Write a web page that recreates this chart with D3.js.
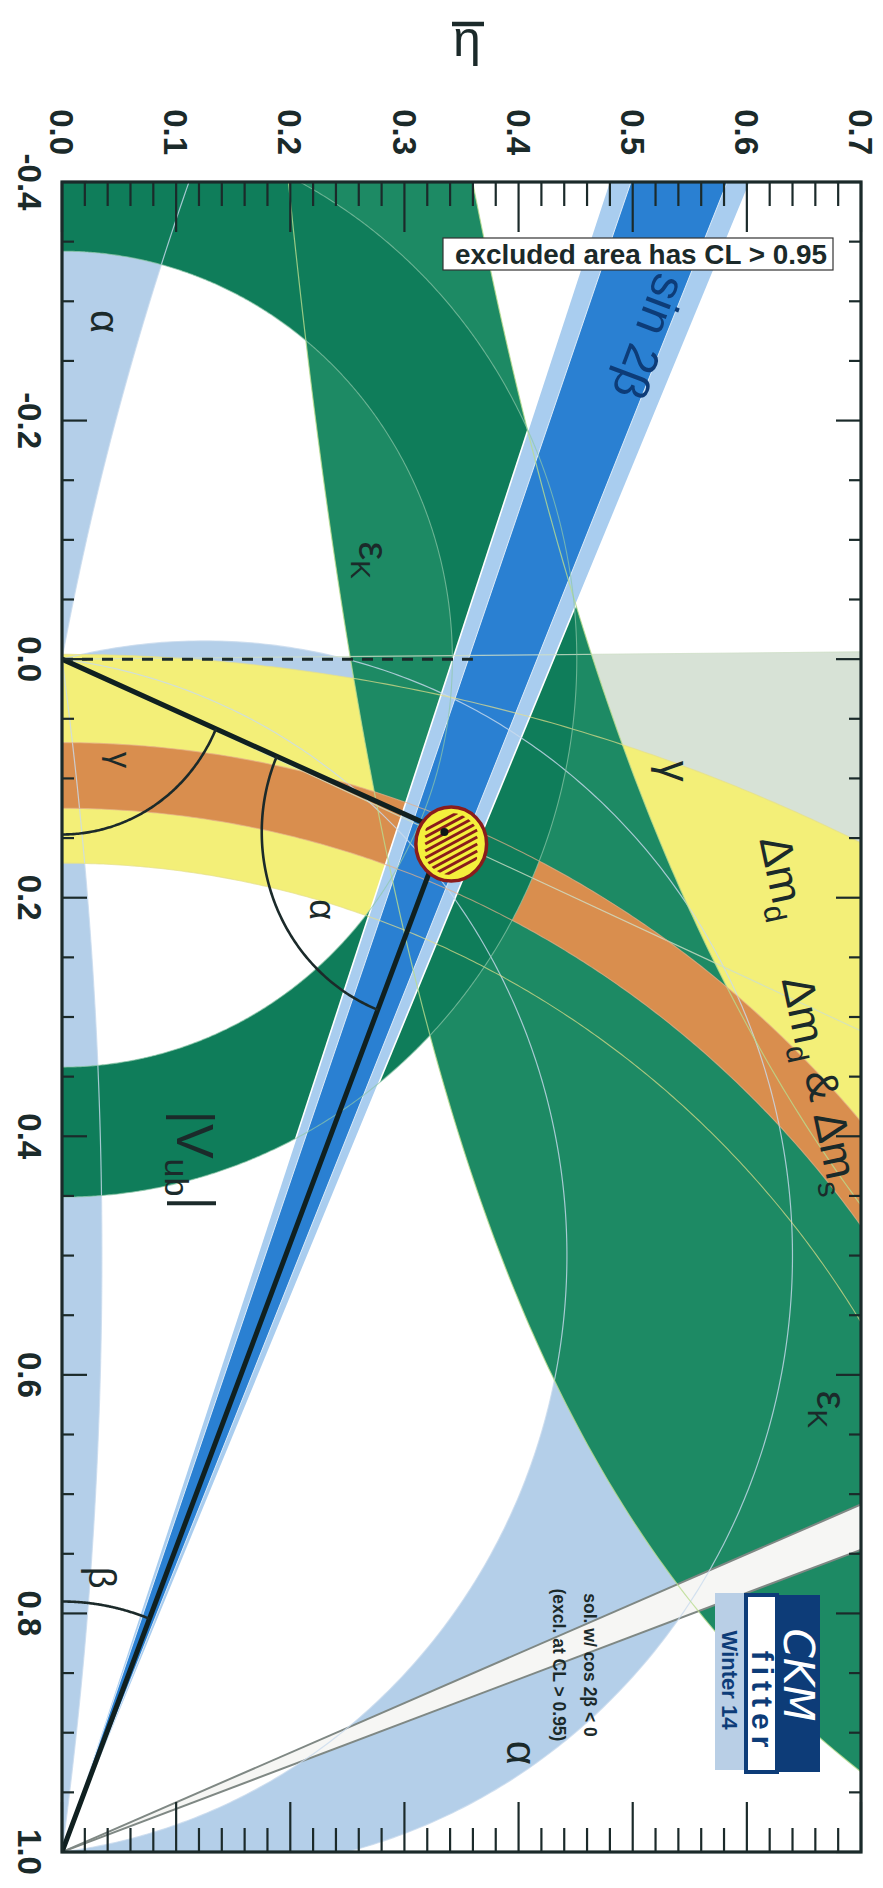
<!DOCTYPE html>
<html>
<head>
<meta charset="utf-8">
<script src="https://cdn.jsdelivr.net/npm/d3@7"></script>
<style>
  html, body { margin: 0; padding: 0; background: #fff; }
  svg { display: block; font-family: "Liberation Sans", Arial, sans-serif; }
</style>
</head>
<body>
<svg id="chart" width="883" height="1888"></svg>
<script>
// ---------------- axes ----------------
const rhoRange = [-0.4, 1.0];
const etaRange = [0.0, 0.7];
const rhoTickLabels = [-0.4, -0.2, 0.0, 0.2, 0.4, 0.6, 0.8, 1.0];
const etaTickLabels = [0.0, 0.1, 0.2, 0.3, 0.4, 0.5, 0.6, 0.7];

// ---------------- unitarity triangle ----------------
const apex = [0.145, 0.335];          // [rho, eta]
const fitCenter = [0.155, 0.341];     // global fit spot
const fitHalfWidth = [0.031, 0.031];  // [rho, eta]
const arcRadii = [0.16, 0.21, 0.147]; // alpha, beta, gamma angle markers

// ---------------- constraints ----------------
const vubRadii = [0.342, 0.451];      // |Vub| ring around (0,0)
const dmdCenters = [1.0, 1.626];      // Δm_d band edges: circles centred on the rho axis
const dmdRadii = [0.829, 1.63];
const dmsRadii = [0.875, 0.93];       // Δm_d & Δm_s ring around (1,0)
const sin2bOuter = [18.9, 23.3];      // beta (deg) at (1,0)
const sin2bInner = [19.6, 22.6];
const cos2bNeg = [67.4, 70.1];        // second sin2β solution
const gammaWedge = [66, 90.5];        // gamma (deg) at (0,0)
const alphaLow = 11;                  // alpha below this (deg)
const alphaMid = [76, 97];
const alphaHigh = 172;                // alpha above this (deg)
const epsKA = [1.46, 1.365];          // eps_K edges: eta = B / (A - rho)  [lower, upper]
const epsKB = [0.369, 0.635];

// ---------------- colours ----------------
const col = {
  epsK: "#1d8a64", vub: "#0f7d5a", dmd: "#f3ef78", dms: "#d98e4e",
  alpha: "#b4cfe9", gamma: "#d7e2d6", blueDark: "#2a80d2", blueLight: "#a9cdef",
  ink: "#1b2a2a", navy: "#0d3c78"
};

// ---------------- frame geometry ----------------
const frame = { left: 62, right: 861, top: 182, bottom: 1852 };
const plotLen = frame.bottom - frame.top;   // rho direction
const plotDepth = frame.right - frame.left; // eta direction
const deg = Math.PI / 180;

const x = d3.scaleLinear().domain(rhoRange).range([0, plotLen]);
const y = d3.scaleLinear().domain(etaRange).range([plotDepth, 0]);
const line = d3.line().x(d => x(d[0])).y(d => y(d[1]));
const poly = pts => line(pts) + "Z";

const svg = d3.select("#chart");
svg.append("rect").attr("width", 883).attr("height", 1888).attr("fill", "#fff");

// the whole plot is drawn in (rho, eta) orientation and turned a quarter turn
const g = svg.append("g")
  .attr("transform", `translate(${frame.right},${frame.top}) rotate(90)`);

g.append("clipPath").attr("id", "plotClip")
  .append("rect").attr("width", plotLen).attr("height", plotDepth);

const layers = g.append("g").attr("clip-path", "url(#plotClip)");

// ---------------- shape helpers (data space) ----------------
function halfCircle(c, r, reverse = false) {
  const pts = d3.range(721).map(i => { const t = Math.PI * i / 720; return [c + r * Math.cos(t), r * Math.sin(t)]; });
  return reverse ? pts.reverse() : pts;
}
function band(c1, r1, c2, r2) { return halfCircle(c2, r2).concat(halfCircle(c1, r1, true)); }
function arc(p, r, a0, a1) {
  return d3.range(121).map(i => { const t = (a0 + (a1 - a0) * i / 120) * deg; return [p[0] + r * Math.cos(t), p[1] + r * Math.sin(t)]; });
}
function wedge(p, a0, a1, len = 3) {
  return [p].concat(d3.range(21).map(i => { const t = (a0 + (a1 - a0) * i / 20) * deg; return [p[0] + len * Math.cos(t), p[1] + len * Math.sin(t)]; }));
}
function ray(p, a, len = 3) { return [p, [p[0] + len * Math.cos(a * deg), p[1] + len * Math.sin(a * deg)]]; }
// locus of constant alpha: circle through (0,0) and (1,0), from (1,0) to (0,0)
function alphaArc(a) {
  const r = 0.5 / Math.sin(a * deg), h = 0.5 / Math.tan(a * deg);
  const t0 = Math.atan2(-h, 0.5), t1 = Math.PI - t0;
  return d3.range(401).map(i => { const t = t0 + (t1 - t0) * i / 400; return [0.5 + r * Math.cos(t), h + r * Math.sin(t)]; });
}
// region with alpha below a: outside the circle, left of the origin
function alphaBelow(a) {
  const r = 0.5 / Math.sin(a * deg), h = 0.5 / Math.tan(a * deg);
  const t1 = Math.PI - Math.atan2(-h, 0.5);
  const pts = d3.range(201).map(i => { const t = t1 - 0.6 * i / 200; return [0.5 + r * Math.cos(t), h + r * Math.sin(t)]; });
  return pts.concat([[-2, 0], [0, 0]]);
}
function epsKEdge(k) {
  return d3.range(-0.45, 1.0501, 0.005).map(r => [r, (epsKA[k] - r > 0.05) ? Math.min(epsKB[k] / (epsKA[k] - r), 1.5) : 1.5]);
}
function epsKBand() { return epsKEdge(0).concat(epsKEdge(1).reverse()); }

const fill = (d, c) => layers.append("path").attr("d", d).attr("fill", c).attr("stroke", "none");
const thin = (pts, c, w = 1.2, op = 0.85) => layers.append("path").attr("d", line(pts))
  .attr("fill", "none").attr("stroke", c).attr("stroke-width", w).attr("opacity", op);

// ---------------- filled constraints ----------------
fill(poly(wedge([0, 0], gammaWedge[0], gammaWedge[1])), col.gamma);
fill(poly(alphaBelow(alphaLow)), col.alpha);
fill(poly(alphaArc(alphaMid[0]).concat(alphaArc(alphaMid[1]).reverse())), col.alpha);
fill(poly(alphaArc(alphaHigh)), col.alpha);
fill(poly(band(dmdCenters[0], dmdRadii[0], dmdCenters[1], dmdRadii[1])), col.dmd);
fill(poly(epsKBand()), col.epsK);
fill(poly(band(1, dmsRadii[0], 1, dmsRadii[1])), col.dms);
fill(poly(band(0, vubRadii[0], 0, vubRadii[1])), col.vub);

// sin 2β bands from (1,0)
fill(poly(wedge([1, 0], 180 - sin2bOuter[1], 180 - sin2bOuter[0])), col.blueLight);
fill(poly(wedge([1, 0], 180 - sin2bInner[1], 180 - sin2bInner[0])), col.blueDark);
sin2bOuter.forEach(b => thin(ray([1, 0], 180 - b), "#ffffff", 1.6, 1));
sin2bInner.forEach(b => thin(ray([1, 0], 180 - b), "#e8f2fb", 1.0, 0.9));

// second solution (cos 2β < 0), excluded
fill(poly(wedge([1, 0], 180 - cos2bNeg[1], 180 - cos2bNeg[0])), "#f6f6f4");
cos2bNeg.forEach(b => thin(ray([1, 0], 180 - b), "#7f8884", 2, 1));

// ---------------- contour lines ----------------
[alphaMid[0], alphaMid[1], alphaHigh].forEach(a => thin(alphaArc(a), "#c9dbee", 1.2, 0.8));
thin(alphaBelow(alphaLow).slice(0, 200), "#c9dbee", 1.2, 0.8);
gammaWedge.forEach(a => thin(ray([0, 0], a), "#cfe0c8", 1.2, 0.8));
[0, 1].forEach(k => thin(epsKEdge(k), "#b9dc8e", 1.2, 0.8));
dmdRadii.forEach((r, i) => thin(halfCircle(dmdCenters[i], r), "#e6e08a", 1.1, 0.7));
dmsRadii.forEach(r => thin(halfCircle(1, r), "#e6b08a", 1.1, 0.7));
vubRadii.forEach(r => thin(halfCircle(0, r), "#8fc7aa", 1.1, 0.7));

// ---------------- triangle ----------------
const tri = g.append("g").attr("clip-path", "url(#plotClip)");
tri.append("path").attr("d", line([[0, 0], [0, 0.36]]))
  .attr("stroke", col.ink).attr("stroke-width", 3).attr("stroke-dasharray", "11,9").attr("fill", "none");
tri.append("path").attr("d", line([[0, 0], apex, [1, 0]]))
  .attr("stroke", "#102020").attr("stroke-width", 5).attr("fill", "none").attr("stroke-linejoin", "round");

// angle markers
const angA0 = Math.atan2(-apex[1], -apex[0]) / deg;        // towards (0,0)
const angA1 = Math.atan2(-apex[1], 1 - apex[0]) / deg;     // towards (1,0)
const angG = Math.atan2(apex[1], apex[0]) / deg;
const angB = Math.atan2(apex[1], apex[0] - 1) / deg;
[arc(apex, arcRadii[0], angA0, angA1),
 arc([1, 0], arcRadii[1], angB, 180),
 arc([0, 0], arcRadii[2], 0, angG)].forEach(pts =>
  tri.append("path").attr("d", line(pts)).attr("fill", "none").attr("stroke", col.ink).attr("stroke-width", 2.6));

// global fit spot
const spot = tri.append("g");
const sx = x(fitCenter[0]), sy = y(fitCenter[1]);
const srx = x(fitCenter[0] + fitHalfWidth[0]) - sx, sry = sy - y(fitCenter[1] + fitHalfWidth[1]);
spot.append("clipPath").attr("id", "spotClip").append("ellipse")
  .attr("cx", sx).attr("cy", sy).attr("rx", srx - 6).attr("ry", sry - 6);
spot.append("ellipse").attr("cx", sx).attr("cy", sy).attr("rx", srx).attr("ry", sry)
  .attr("fill", "#f4f03c").attr("stroke", "#8a1c1c").attr("stroke-width", 3.5);
const hatch = spot.append("g").attr("clip-path", "url(#spotClip)");
d3.range(-4, 5).forEach(k => {
  const cx = sx + k * 7;
  hatch.append("line").attr("x1", cx - 14).attr("y1", sy - 26).attr("x2", cx + 14).attr("y2", sy + 26)
    .attr("stroke", "#8a1c1c").attr("stroke-width", 3);
});
spot.append("circle").attr("cx", x(apex[0])).attr("cy", y(apex[1])).attr("r", 4).attr("fill", "#101818");

// ---------------- frame and ticks ----------------
const axes = g.append("g").attr("stroke", col.ink).attr("fill", "none");
const etaMinor = d3.range(0, 0.70001, 0.02);
const rhoMinor = d3.range(-0.4, 1.00001, 0.05);
const isMajor = (v, step) => Math.abs(v / step - Math.round(v / step)) < 1e-6;
etaMinor.forEach(e => {
  const len = isMajor(e, 0.1) ? 50 : 24;
  axes.append("line").attr("x1", 0).attr("x2", len).attr("y1", y(e)).attr("y2", y(e)).attr("stroke-width", 2.2);
  axes.append("line").attr("x1", plotLen).attr("x2", plotLen - len).attr("y1", y(e)).attr("y2", y(e)).attr("stroke-width", 2.2);
});
rhoMinor.forEach(r => {
  const len = isMajor(r, 0.2) ? 25 : 12;
  axes.append("line").attr("x1", x(r)).attr("x2", x(r)).attr("y1", plotDepth).attr("y2", plotDepth - len).attr("stroke-width", 2.2);
  axes.append("line").attr("x1", x(r)).attr("x2", x(r)).attr("y1", 0).attr("y2", len).attr("stroke-width", 2.2);
});
axes.append("rect").attr("width", plotLen).attr("height", plotDepth).attr("stroke-width", 3.2);

const labels = g.append("g").attr("fill", col.ink).attr("font-weight", "bold").attr("font-size", 33);
etaTickLabels.forEach(e => labels.append("text").attr("x", -27).attr("y", y(e)).attr("dy", "0.36em")
  .attr("text-anchor", "end").text(e.toFixed(1)));
rhoTickLabels.forEach(r => labels.append("text").attr("x", x(r)).attr("y", plotDepth + 44)
  .attr("text-anchor", "middle").text(r.toFixed(1)));

// ---------------- in-plot labels ----------------
const txt = (rho, eta, size, rot = 0, color = col.ink) =>
  g.append("text").attr("transform", `translate(${x(rho)},${y(eta)}) rotate(${rot})`)
    .attr("text-anchor", "middle").attr("dy", "0.35em").attr("font-size", size).attr("fill", color);
txt(-0.283, 0.038, 40).text("α");
txt(0.21, 0.228, 36).text("α");
txt(0.917, 0.403, 42).text("α");
txt(0.0845, 0.051, 32).text("γ");
txt(0.094, 0.537, 42).text("γ");
txt(0.77, 0.035, 38).text("β");
txt(-0.27, 0.515, 48, 20.6, col.navy).text("sin 2β");
[[-0.083, 0.273], [0.629, 0.674]].forEach(([r, e]) => {
  const t = txt(r, e, 42);
  t.append("tspan").text("ε");
  t.append("tspan").attr("font-size", 28).attr("dy", "0.3em").text("K");
});
const vub = txt(0.42, 0.117, 52);
vub.append("tspan").text("|V");
vub.append("tspan").attr("font-size", 34).attr("dy", "0.35em").text("ub");
vub.append("tspan").attr("dy", "-0.25em").text("|");
const dmd = txt(0.183, 0.632, 45, -12);
dmd.append("tspan").text("Δm");
dmd.append("tspan").attr("font-size", 30).attr("dy", "0.35em").text("d");
const dms = txt(0.357, 0.664, 45, -12);
dms.append("tspan").text("Δm");
dms.append("tspan").attr("font-size", 30).attr("dy", "0.35em").text("d");
dms.append("tspan").attr("dy", "-0.3em").text(" & Δm");
dms.append("tspan").attr("font-size", 30).attr("dy", "0.35em").text("s");

// second-solution note
g.append("text").attr("x", 1483).attr("y", 277).attr("text-anchor", "middle")
  .attr("font-size", 17.5).attr("font-weight", "bold").attr("fill", col.ink).text("sol. w/ cos 2β < 0");
g.append("text").attr("x", 1483).attr("y", 308).attr("text-anchor", "middle")
  .attr("font-size", 17.5).attr("font-weight", "bold").attr("fill", col.ink).text("(excl. at CL > 0.95)");

// CKMfitter logo
const logo = g.append("g");
logo.append("rect").attr("x", 1413).attr("y", 41).attr("width", 177).attr("height", 43).attr("fill", col.navy);
logo.append("rect").attr("x", 1413).attr("y", 84).attr("width", 177).attr("height", 31)
  .attr("fill", "#fff").attr("stroke", col.navy).attr("stroke-width", 4);
logo.append("rect").attr("x", 1411).attr("y", 117).attr("width", 177).attr("height", 29).attr("fill", "#b9cfe6");
logo.append("text").attr("x", 1493).attr("y", 77).attr("text-anchor", "middle").attr("font-size", 42)
  .attr("font-style", "italic").attr("fill", "#fff").attr("font-family", "DejaVu Sans").attr("font-weight", 200).text("CKM");
logo.append("text").attr("x", 1520).attr("y", 109).attr("text-anchor", "middle").attr("font-size", 30)
  .attr("font-weight", "bold").attr("letter-spacing", 6).attr("fill", col.navy).text("fitter");
logo.append("text").attr("x", 1498).attr("y", 139).attr("text-anchor", "middle").attr("font-size", 22)
  .attr("font-weight", "bold").attr("fill", col.navy).text("Winter 14");

// ---------------- page-level texts ----------------
svg.append("rect").attr("x", 443).attr("y", 238).attr("width", 390).attr("height", 32)
  .attr("fill", "#fff").attr("stroke", "#333").attr("stroke-width", 1.2);
svg.append("text").attr("x", 455).attr("y", 264).attr("font-size", 28).attr("font-weight", "bold")
  .attr("textLength", 372).attr("lengthAdjust", "spacingAndGlyphs")
  .attr("fill", col.ink).text("excluded area has CL > 0.95");

svg.append("line").attr("x1", 452).attr("x2", 484).attr("y1", 24).attr("y2", 24)
  .attr("stroke", col.ink).attr("stroke-width", 4.5);
svg.append("text").attr("x", 467).attr("y", 56).attr("text-anchor", "middle")
  .attr("font-size", 50).attr("fill", col.ink).text("η");
</script>
</body>
</html>
